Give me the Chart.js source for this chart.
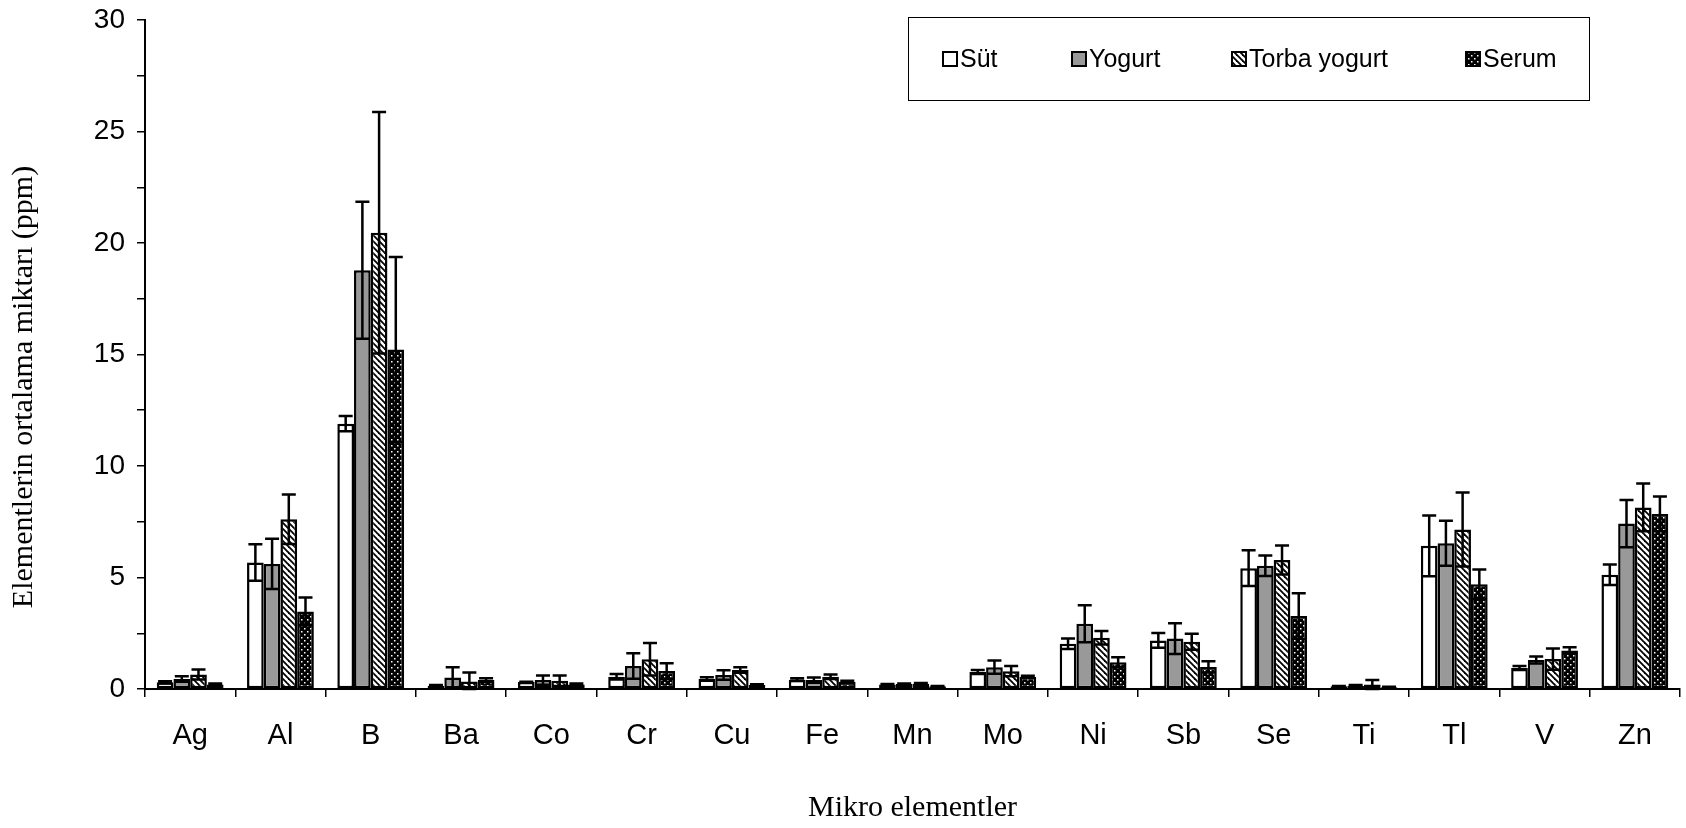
<!DOCTYPE html>
<html>
<head>
<meta charset="utf-8">
<script src="https://cdn.jsdelivr.net/npm/chart.js@4/dist/chart.umd.min.js"></script>
<style>
  body { margin: 0; background: #fff; }
  #wrap { width: 1686px; height: 828px; }
</style>
</head>
<body>
<div id="wrap"><canvas id="myChart" width="1686" height="828"></canvas></div>
<script>
const categories = ["Ag", "Al", "B", "Ba", "Co", "Cr", "Cu", "Fe", "Mn", "Mo", "Ni", "Sb", "Se", "Ti", "Tl", "V", "Zn"];

const sut = [0.3, 5.67, 11.9, 0.15, 0.31, 0.55, 0.45, 0.42, 0.2, 0.76, 2.03, 2.18, 5.42, 0.12, 6.42, 0.94, 5.12];
const sutErr = [0.05, 0.82, 0.34, 0.03, 0.02, 0.12, 0.08, 0.06, 0.02, 0.09, 0.24, 0.33, 0.8, 0.02, 1.36, 0.09, 0.46];

const yogurt = [0.45, 5.61, 18.78, 0.52, 0.4, 1.03, 0.63, 0.4, 0.22, 0.98, 2.93, 2.26, 5.53, 0.15, 6.54, 1.3, 7.42];
const yogurtErr = [0.12, 1.13, 3.07, 0.46, 0.21, 0.57, 0.21, 0.12, 0.03, 0.3, 0.83, 0.69, 0.46, 0.03, 1.01, 0.16, 1.06];

const torba = [0.65, 7.61, 20.46, 0.34, 0.37, 1.33, 0.85, 0.55, 0.23, 0.8, 2.3, 2.12, 5.78, 0.2, 7.15, 1.34, 8.14];
const torbaErr = [0.22, 1.11, 5.42, 0.4, 0.24, 0.73, 0.12, 0.1, 0.04, 0.23, 0.3, 0.36, 0.65, 0.2, 1.66, 0.48, 1.07];

const serum = [0.2, 3.48, 15.22, 0.4, 0.2, 0.81, 0.18, 0.32, 0.12, 0.54, 1.2, 0.99, 3.27, 0.08, 4.7, 1.73, 7.85];
const serumErr = [0.05, 0.62, 4.15, 0.08, 0.05, 0.35, 0.03, 0.05, 0.02, 0.05, 0.22, 0.25, 1.02, 0.02, 0.66, 0.14, 0.78];

const yTicks = [0, 5, 10, 15, 20, 25, 30];
const yTitle = "Elementlerin ortalama miktarı (ppm)";

// ===== PATTERNS =====
function hatchPattern() {
  const c = document.createElement("canvas");
  c.width = 6;
  c.height = 6;
  const g = c.getContext("2d");
  g.fillStyle = "#fff";
  g.fillRect(0, 0, 6, 6);
  g.strokeStyle = "#000";
  g.lineWidth = 1.8;
  for (const off of [-6, 0, 6]) {
    g.beginPath();
    g.moveTo(off - 1, -1);
    g.lineTo(off + 7, 7);
    g.stroke();
  }
  return g.createPattern(c, "repeat");
}

function dotPattern() {
  const c = document.createElement("canvas");
  c.width = 6;
  c.height = 6;
  const g = c.getContext("2d");
  g.fillStyle = "#000";
  g.fillRect(0, 0, 6, 6);
  g.fillStyle = "#fff";
  g.fillRect(1, 1, 1.5, 1.5);
  g.fillRect(4, 4, 1.5, 1.5);
  return g.createPattern(c, "repeat");
}

// ===== ERROR BARS =====
const errorBarPlugin = {
  id: "errorBarPlugin",
  afterDatasetsDraw(chart) {
    const { ctx } = chart;
    const y = chart.scales.y;
    ctx.save();
    ctx.strokeStyle = "#000";
    ctx.lineWidth = 2.5;
    chart.data.datasets.forEach((dataset, i) => {
      const meta = chart.getDatasetMeta(i);
      meta.data.forEach((bar, index) => {
        const v = dataset.data[index];
        const e = dataset.errors[index];
        const top = y.getPixelForValue(v + e);
        const bottom = y.getPixelForValue(Math.max(v - e, 0));
        const half = 7;
        ctx.beginPath();
        ctx.moveTo(bar.x, top);
        ctx.lineTo(bar.x, bottom);
        ctx.moveTo(bar.x - half, top);
        ctx.lineTo(bar.x + half, top);
        ctx.moveTo(bar.x - half, bottom);
        ctx.lineTo(bar.x + half, bottom);
        ctx.stroke();
      });
    });
    ctx.restore();
  },
};

// ===== LEGEND BOX + Y TITLE =====
const legendBoxPlugin = {
  id: "legendBoxPlugin",
  afterDraw(chart) {
    const { ctx } = chart;
    const itemX = [943, 1072, 1232, 1466];
    const cy = 59;
    ctx.save();
    ctx.strokeStyle = "#000";
    ctx.lineWidth = 1;
    ctx.strokeRect(908.5, 17.5, 681, 83);
    ctx.font = "25px 'Liberation Sans', Arial, sans-serif";
    ctx.textBaseline = "middle";
    ctx.textAlign = "left";
    chart.data.datasets.forEach((dataset, i) => {
      const x = itemX[i];
      ctx.fillStyle = dataset.backgroundColor;
      ctx.fillRect(x, cy - 7, 14, 14);
      ctx.lineWidth = 2;
      ctx.strokeRect(x, cy - 7, 14, 14);
      ctx.fillStyle = "#000";
      ctx.fillText(dataset.label, x + 17, cy + 1);
    });

    // y-axis title, placed a bit below the axis middle as in the original
    ctx.translate(24, 387);
    ctx.rotate(-Math.PI / 2);
    ctx.font = "30px 'Liberation Serif', 'Times New Roman', serif";
    ctx.textAlign = "center";
    ctx.textBaseline = "middle";
    ctx.fillStyle = "#000";
    ctx.fillText(yTitle, 0, 0);
    ctx.restore();
  },
};

const ctx = document.getElementById("myChart");
new Chart(ctx, {
  type: "bar",
  data: {
    labels: categories,
    datasets: [
      { label: "Süt", data: sut, errors: sutErr, backgroundColor: "#fff" },
      { label: "Yogurt", data: yogurt, errors: yogurtErr, backgroundColor: "#999999" },
      { label: "Torba yogurt", data: torba, errors: torbaErr, backgroundColor: hatchPattern() },
      { label: "Serum", data: serum, errors: serumErr, backgroundColor: dotPattern() },
    ].map((d) => ({
      ...d,
      borderColor: "#000",
      borderWidth: 2.5,
      borderSkipped: false,
      categoryPercentage: 0.74,
      barPercentage: 1.0,
    })),
  },
  options: {
    responsive: false,
    animation: false,
    devicePixelRatio: 1,
    layout: {
      padding: { top: 20, right: 6, left: 0, bottom: 0 },
    },
    plugins: {
      legend: { display: false },
      tooltip: { enabled: false },
    },
    scales: {
      x: {
        grid: {
          offset: true,
          drawOnChartArea: false,
          color: "#000",
          lineWidth: 1.5,
          tickLength: 8,
        },
        border: { color: "#000", width: 2 },
        ticks: {
          color: "#000",
          padding: 22,
          maxRotation: 0,
          font: { family: "'Liberation Sans', Arial, sans-serif", size: 29 },
        },
        title: {
          display: true,
          text: "Mikro elementler",
          color: "#000",
          padding: 2,
          font: { family: "'Liberation Serif', 'Times New Roman', serif", size: 30 },
        },
        afterFit(scale) {
          scale.height = 139;
        },
      },
      y: {
        min: yTicks[0],
        max: yTicks[yTicks.length - 1],
        grid: {
          drawOnChartArea: false,
          color: "#000",
          lineWidth: 1.5,
          tickLength: 8,
        },
        border: { color: "#000", width: 2 },
        ticks: {
          stepSize: 2.5,
          color: "#000",
          padding: 12,
          font: { family: "'Liberation Sans', Arial, sans-serif", size: 28, lineHeight: 0.4 },
          callback: (value) => (yTicks.includes(value) ? value : ""),
        },
        afterFit(scale) {
          scale.width = 145;
        },
      },
    },
  },
  plugins: [errorBarPlugin, legendBoxPlugin],
});
</script>
</body>
</html>
